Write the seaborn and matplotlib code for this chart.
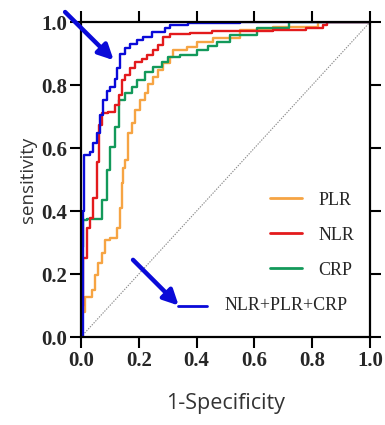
import numpy as np
import pandas as pd
import matplotlib
matplotlib.use("Agg")
import matplotlib.pyplot as plt
from matplotlib.lines import Line2D
import seaborn as sns

# ROC step vertices (1-specificity, sensitivity)
PLR_FPR = [0, 0.004, 0.014, 0.037, 0.048, 0.06, 0.072, 0.083, 0.10, 0.123, 0.135,
           0.141, 0.146, 0.152, 0.163, 0.175, 0.187, 0.204, 0.221, 0.233, 0.25,
           0.267, 0.285, 0.308, 0.318, 0.366, 0.40, 0.457, 0.55, 0.665, 0.82, 1.0]
PLR_TPR = [0, 0.08, 0.128, 0.149, 0.197, 0.235, 0.266, 0.308, 0.314, 0.346, 0.41,
           0.489, 0.536, 0.562, 0.647, 0.679, 0.72, 0.752, 0.774, 0.805, 0.826,
           0.848, 0.869, 0.89, 0.911, 0.922, 0.937, 0.948, 0.975, 0.983, 1.0, 1.0]

NLR_FPR = [0, 0.005, 0.008, 0.02, 0.031, 0.043, 0.054, 0.062, 0.072, 0.095, 0.118,
           0.13, 0.141, 0.152, 0.17, 0.187, 0.21, 0.227, 0.25, 0.267, 0.285, 0.308,
           0.377, 0.452, 0.665, 0.78, 0.838, 0.85, 1.0]
NLR_TPR = [0, 0.10, 0.25, 0.346, 0.378, 0.44, 0.556, 0.673, 0.71, 0.715, 0.736,
           0.768, 0.816, 0.832, 0.853, 0.874, 0.884, 0.895, 0.911, 0.927, 0.953, 0.962,
           0.966, 0.971, 0.975, 0.982, 0.992, 1.0, 1.0]

CRP_FPR = [0, 0.004, 0.007, 0.02, 0.072, 0.089, 0.10, 0.118, 0.133, 0.152, 0.175,
           0.193, 0.221, 0.25, 0.279, 0.302, 0.343, 0.40, 0.44, 0.47, 0.516, 0.608,
           0.72, 1.0]
CRP_TPR = [0, 0.287, 0.371, 0.375, 0.435, 0.53, 0.604, 0.667, 0.752, 0.774, 0.795,
           0.816, 0.842, 0.858, 0.874, 0.89, 0.897, 0.91, 0.925, 0.937, 0.958, 0.98,
           1.0, 1.0]

ALL_FPR = [0, 0.006, 0.012, 0.031, 0.043, 0.054, 0.066, 0.077, 0.089, 0.10, 0.118,
           0.123, 0.135, 0.152, 0.17, 0.193, 0.215, 0.245, 0.29, 0.308, 0.37, 0.55, 1.0]
ALL_TPR = [0, 0.40, 0.578, 0.588, 0.615, 0.647, 0.705, 0.752, 0.78, 0.795, 0.82,
           0.853, 0.90, 0.917, 0.932, 0.943, 0.953, 0.969, 0.98, 0.99, 0.996, 1.0, 1.0]

MODELS = ["PLR", "CRP", "NLR", "NLR+PLR+CRP"]
COLORS = {"PLR": "#f6a443", "NLR": "#e31a1c", "CRP": "#13995a", "NLR+PLR+CRP": "#0a0ad8"}
LEGEND_ORDER = ["PLR", "NLR", "CRP"]

curves = {"PLR": (PLR_FPR, PLR_TPR), "NLR": (NLR_FPR, NLR_TPR),
          "CRP": (CRP_FPR, CRP_TPR), "NLR+PLR+CRP": (ALL_FPR, ALL_TPR)}
df = pd.concat([pd.DataFrame({"fpr": f, "tpr": t, "model": m})
                for m, (f, t) in curves.items()], ignore_index=True)

sns.set_style("white")
plt.rcParams["font.family"] = ["Liberation Serif", "DejaVu Serif"]

fig = plt.figure(figsize=(3.85, 4.25), dpi=100)
ax = fig.add_axes([0.2104, 0.207, 0.7506, 0.741])

ax.plot([0, 1], [0, 1], color="#8a8a8a", ls=(0, (1.2, 1.2)), lw=0.8, zorder=1)

sns.lineplot(data=df, x="fpr", y="tpr", hue="model", hue_order=MODELS,
             palette=COLORS, estimator=None, sort=False, drawstyle="steps-post",
             lw=1.7, legend=False, ax=ax, zorder=2)

ax.set_xlim(0, 1)
ax.set_ylim(0, 1)
ticks = np.linspace(0, 1, 6)
ax.set_xticks(ticks)
ax.set_yticks(ticks)
ax.set_xticklabels([f"{t:.1f}" for t in ticks])
ax.set_yticklabels([f"{t:.1f}" for t in ticks])
ax.tick_params(axis="both", which="both", direction="out", length=8, width=1.5,
               labelsize=15, pad=2, color="black",
               top=True, right=True, bottom=True, left=True)
for lab in ax.get_xticklabels() + ax.get_yticklabels():
    lab.set_fontweight("bold")
for s in ax.spines.values():
    s.set_linewidth(1.6)
    s.set_color("black")

ax.set_xlabel("1-Specificity", fontsize=15.5, family="Open Sans", color="#333333",
              labelpad=16)
ax.set_ylabel("sensitivity", fontsize=13.5, family="Open Sans", color="#333333",
              labelpad=3)

handles = [Line2D([], [], color=COLORS[m], lw=2) for m in LEGEND_ORDER]
ax.legend(handles, LEGEND_ORDER, loc="upper left", bbox_to_anchor=(0.655, 0.462),
          frameon=False, fontsize=13, handlelength=1.75, handletextpad=0.9,
          labelspacing=1.0, borderpad=0, borderaxespad=0)

blue = COLORS["NLR+PLR+CRP"]
ax.annotate("", xy=(0.113, 0.879), xytext=(-0.055, 1.032),
            arrowprops=dict(arrowstyle="-|>,head_length=0.9,head_width=0.45",
                            color=blue, lw=3.2, shrinkA=0, shrinkB=0),
            annotation_clip=False)
ax.annotate("", xy=(0.338, 0.1), xytext=(0.18, 0.245),
            arrowprops=dict(arrowstyle="-|>,head_length=0.9,head_width=0.45",
                            color=blue, lw=3.2, shrinkA=0, shrinkB=0))
ax.plot([0.335, 0.436], [0.1, 0.1], color=blue, lw=2)
ax.text(0.495, 0.1, "NLR+PLR+CRP", fontsize=13, va="center", ha="left")

fig.savefig("out.png", dpi=100)
